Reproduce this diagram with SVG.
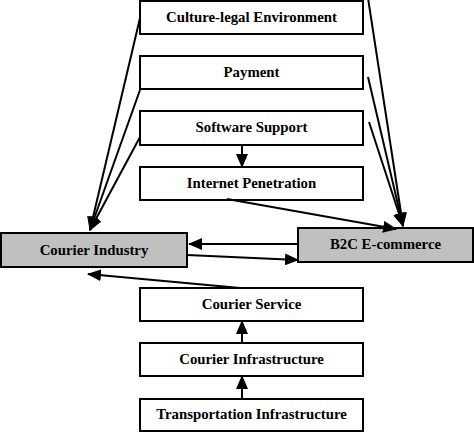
<svg xmlns="http://www.w3.org/2000/svg" width="474" height="432" viewBox="0 0 474 432">
<style>
.box{fill:#fff;stroke:#000;stroke-width:2}
.grey{fill:#c0c0c0;stroke:#000;stroke-width:2}
text{font-family:"Liberation Serif","Times New Roman",serif;font-weight:bold;font-size:14.8px;text-anchor:middle;fill:#000}
.c line{stroke:#000;stroke-width:2;marker-end:url(#ah)}
</style>
<defs>
<marker id="ah" markerUnits="userSpaceOnUse" markerWidth="14" markerHeight="12" viewBox="0 0 14 12" refX="13" refY="6" orient="auto">
<path d="M0,0 L14,6 L0,12 z" fill="#000"/>
</marker>
</defs>
<rect width="474" height="432" fill="#fff"/>
<g id="culture"><rect class="box" x="140" y="1" width="223" height="33"/><text x="251.5" y="22">Culture-legal Environment</text></g>
<g id="payment"><rect class="box" x="140" y="56" width="223" height="33"/><text x="251.5" y="77">Payment</text></g>
<g id="software"><rect class="box" x="140" y="111" width="223" height="34"/><text x="251.5" y="132">Software Support</text></g>
<g id="internet"><rect class="box" x="140" y="167" width="223" height="33"/><text x="251.5" y="188">Internet Penetration</text></g>
<g id="courier-industry"><rect class="grey" x="1" y="233" width="186" height="34"/><text x="94" y="255">Courier Industry</text></g>
<g id="b2c"><rect class="grey" x="298" y="228" width="175" height="34"/><text x="385.5" y="249">B2C E-commerce</text></g>
<g id="courier-service"><rect class="box" x="140" y="288" width="223" height="33"/><text x="251.5" y="309">Courier Service</text></g>
<g id="courier-infra"><rect class="box" x="140" y="343" width="223" height="33"/><text x="251.5" y="364">Courier Infrastructure</text></g>
<g id="transport-infra"><rect class="box" x="140" y="399" width="223" height="32"/><text x="251.5" y="419">Transportation Infrastructure</text></g>
<g class="c" id="connectors">
<line x1="140" y1="18" x2="90" y2="230"/>
<line x1="140" y1="90" x2="90" y2="230"/>
<line x1="140" y1="137" x2="90" y2="230"/>
<line x1="368" y1="-2" x2="403" y2="226"/>
<line x1="368" y1="77" x2="403" y2="226"/>
<line x1="369" y1="122" x2="403" y2="226"/>
<line x1="227" y1="199" x2="396" y2="229"/>
<line x1="242" y1="145" x2="242" y2="167"/>
<line x1="298" y1="244" x2="189" y2="244"/>
<line x1="187" y1="255" x2="298" y2="260"/>
<line x1="240" y1="288" x2="88" y2="274"/>
<line x1="242" y1="343" x2="242" y2="321"/>
<line x1="242" y1="399" x2="242" y2="376"/>
</g>
</svg>
